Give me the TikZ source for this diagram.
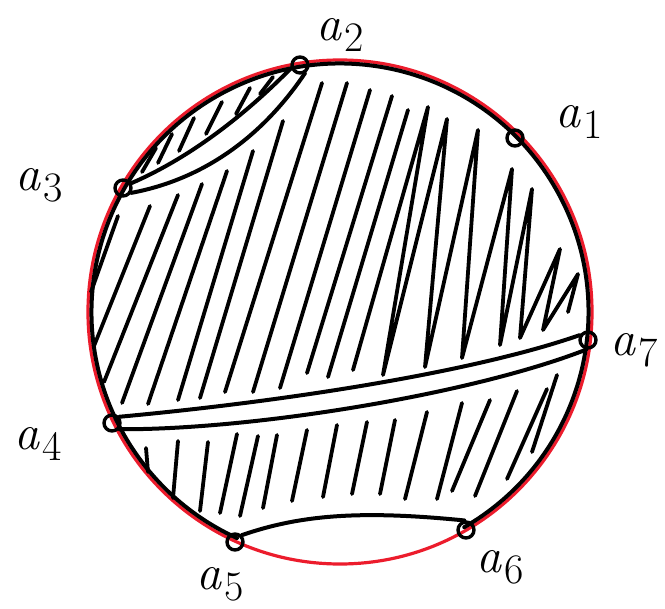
\documentclass[tikz,border=0pt]{standalone}
\usepackage{fontspec}
\definecolor{rimRed}{RGB}{236,28,44}
\tikzset{
  rim/.style={draw=rimRed, line width=3.2pt},
  ink/.style={draw=black, line width=4pt, line cap=round, line join=round},
  hatch/.style={ink, line width=3.8pt},
  pt/.style={circle, draw=black, line width=3.4pt, minimum size=16pt, inner sep=0pt},
  lbl/.style={font=\fontsize{50}{52}\selectfont, inner sep=0pt},
}
\newcommand{\pname}[1]{\textit{a}\kern3pt\raisebox{-11pt}{\fontsize{42}{44}\selectfont #1}}

\begin{document}
\begin{tikzpicture}[x=1pt,y=-1pt]
\useasboundingbox (0,0) rectangle (665,609);
% red circle
\coordinate (c) at (340,312);
\draw[rim] (c) circle (252);
% black rim, left open between a5 and a6
\draw[ink] (c) ++(60:248.5) arc (60:-245.5:248.5);

% hatching, upper part
\foreach \xa/\ya/\xb/\yb in {91/292/118/216, 94/346/150/206, 104/382/178/195,
    122/403/202/184, 148/404/227/171, 178/400/253/151, 200/398/283/121,
    225/392/322/83, 253/392/347/83, 280/388/370/90, 307/373/392/96, 328/377/408/110}
  \draw[hatch] (\xa,\ya) -- (\xb,\yb);
\draw[hatch] (353,370) -- (428,107) -- (383,375) -- (447,119) -- (425,367)
  -- (478,130) -- (462,358) -- (512,169) -- (500,345) -- (532,189) -- (520,338)
  -- (560,249) -- (543,330) -- (578,274) -- (568,312);
% hatching between a3 and a2
\foreach \xa/\ya/\xb/\yb in {142/172/156/148, 158/163/172/134, 179/151/194/118,
    206/134/222/102, 236/114/250/88, 260/94/273/77}
  \draw[hatch] (\xa,\ya) -- (\xb,\yb);
% hatching, lower part
\foreach \xa/\ya/\xb/\yb in {148/472/146/448, 173/498/178/441, 200/511/208/442,
    220/513/237/434, 240/516/258/436, 263/508/277/435, 292/501/307/430,
    323/497/337/425, 352/494/367/422, 380/494/395/420, 405/499/427/412,
    437/499/462/403, 452/491/490/400, 475/496/517/391, 507/479/547/389,
    532/452/557/375}
  \draw[hatch] (\xa,\ya) -- (\xb,\yb);

% points
\node[pt] (a1) at (515,138) {};
\node[pt] (a2) at (300,65) {};
\node[pt] (a3) at (123,188) {};
\node[pt] (a4) at (112,423) {};
\node[pt] (a5) at (235,542) {};
\node[pt] (a6) at (466,530) {};
\node[pt] (a7) at (588,340) {};

% chords
\draw[ink] (a3.30) .. controls (185,160) and (240,120) .. (a2.200);
\draw[ink] (a3.-30) .. controls (200,180) and (260,140) .. (a2.-60);
\draw[ink] (a4.40) .. controls (300,400) and (480,370) .. (a7.150);
\draw[ink] (a4.-40) .. controls (250,430) and (470,395) .. (a7.-100);
\draw[ink] (a5.45) .. controls (300,515) and (360,510) .. (a6.100);

% labels
\node[lbl] (la1) at (579,122) {\pname{1}};
\node[lbl] (la2) at (340,35) {\pname{2}};
\node[lbl] (la3) at (39,185) {\pname{3}};
\node[lbl] (la4) at (38,444) {\pname{4}};
\node[lbl] (la5) at (220,584) {\pname{5}};
\node[lbl] (la6) at (500,567) {\pname{6}};
\node[lbl] (la7) at (634,350) {\pname{7}};
\end{tikzpicture}
\end{document}
